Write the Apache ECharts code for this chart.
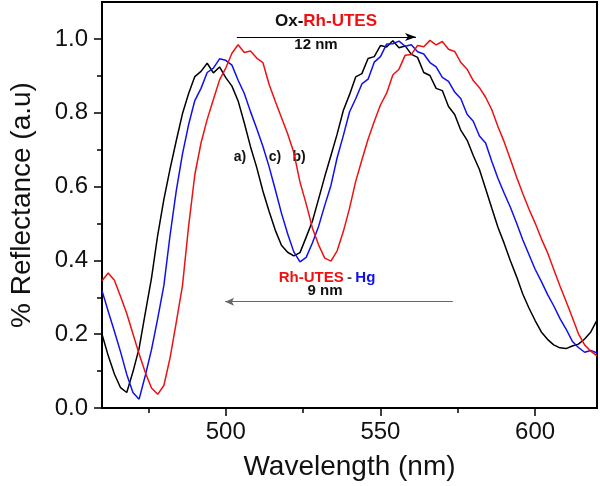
<!DOCTYPE html>
<html>
<head>
<meta charset="utf-8">
<script src="https://cdn.jsdelivr.net/npm/echarts@6/dist/echarts.min.js"></script>
<style>
  html, body { margin: 0; padding: 0; background: #fff; }
  #chart { width: 600px; height: 486px; }
</style>
</head>
<body>
<div id="chart"></div>
<script>
// wavelength samples (nm)
const wavelengths = [
  460, 462, 464, 466, 468, 470, 472, 474, 476, 478,
  480, 482, 484, 486, 488, 490, 492, 494, 496, 498,
  500, 502, 504, 506, 508, 510, 512, 514, 516, 518,
  520, 522, 524, 526, 528, 530, 532, 534, 536, 538,
  540, 542, 544, 546, 548, 550, 552, 554, 556, 558,
  560, 562, 564, 566, 568, 570, 572, 574, 576, 578,
  580, 582, 584, 586, 588, 590, 592, 594, 596, 598,
  600, 602, 604, 606, 608, 610, 612, 614, 616, 618,
  620
];
// a) Ox-Rh-UTES (black)
const reflA = [
  0.200, 0.142, 0.092, 0.055, 0.042, 0.098, 0.162, 0.258, 0.352, 0.468,
  0.565, 0.648, 0.724, 0.797, 0.852, 0.898, 0.912, 0.934, 0.908, 0.924,
  0.895, 0.872, 0.832, 0.772, 0.708, 0.652, 0.588, 0.533, 0.482, 0.441,
  0.422, 0.412, 0.421, 0.463, 0.506, 0.566, 0.627, 0.684, 0.742, 0.806,
  0.849, 0.897, 0.906, 0.947, 0.952, 0.982, 0.978, 0.995, 0.976, 0.981,
  0.958, 0.950, 0.909, 0.901, 0.866, 0.860, 0.817, 0.795, 0.752, 0.726,
  0.684, 0.646, 0.594, 0.541, 0.489, 0.446, 0.399, 0.356, 0.309, 0.271,
  0.237, 0.206, 0.186, 0.171, 0.163, 0.161, 0.168, 0.173, 0.187, 0.206,
  0.238
];
// b) Rh-UTES (red)
const reflB = [
  0.345, 0.366, 0.346, 0.302, 0.256, 0.201, 0.146, 0.096, 0.054, 0.037,
  0.061, 0.136, 0.232, 0.331, 0.493, 0.632, 0.718, 0.782, 0.836, 0.889,
  0.921, 0.961, 0.984, 0.963, 0.967, 0.948, 0.936, 0.877, 0.831, 0.787,
  0.743, 0.692, 0.612, 0.553, 0.488, 0.442, 0.406, 0.398, 0.426, 0.478,
  0.541, 0.614, 0.672, 0.728, 0.776, 0.821, 0.853, 0.902, 0.918, 0.956,
  0.958, 0.982, 0.979, 0.996, 0.984, 0.993, 0.972, 0.966, 0.936, 0.918,
  0.887, 0.868, 0.842, 0.808, 0.762, 0.721, 0.674, 0.626, 0.581, 0.539,
  0.501, 0.459, 0.421, 0.376, 0.331, 0.289, 0.246, 0.201, 0.171, 0.154,
  0.141
];
// c) Rh-UTES-Hg (blue)
const reflC = [
  0.318, 0.262, 0.208, 0.152, 0.091, 0.042, 0.024, 0.088, 0.158, 0.242,
  0.332, 0.468, 0.588, 0.688, 0.768, 0.833, 0.866, 0.909, 0.921, 0.946,
  0.942, 0.929, 0.888, 0.852, 0.803, 0.757, 0.709, 0.654, 0.592, 0.528,
  0.472, 0.423, 0.396, 0.408, 0.447, 0.492, 0.549, 0.603, 0.678, 0.738,
  0.802, 0.838, 0.878, 0.891, 0.937, 0.952, 0.986, 0.987, 0.994, 0.980,
  0.984, 0.965, 0.959, 0.936, 0.924, 0.896, 0.885, 0.856, 0.838, 0.796,
  0.777, 0.737, 0.718, 0.668, 0.622, 0.582, 0.544, 0.501, 0.456, 0.416,
  0.376, 0.343, 0.308, 0.277, 0.243, 0.214, 0.181, 0.164, 0.151, 0.156,
  0.149
];
const xMajorTicks = [500, 550, 600];
const xMinorTicks = [475, 525, 575];
const yMajorTicks = [0, 0.2, 0.4, 0.6, 0.8, 1.0];
const yMinorTicks = [0.1, 0.3, 0.5, 0.7, 0.9];
// shift arrows (nm, reflectance)
const redShift = [[503.6, 1.005], [561.5, 1.005]];
const blueShift = [[573.4, 0.288], [499.8, 0.288]];

const FONT = '"Liberation Sans", Arial, sans-serif';
const chart = echarts.init(document.getElementById('chart'));

function pairs(ys) {
  return wavelengths.map(function (x, i) { return [x, ys[i]]; });
}

function note(x, y, text, size) {
  return { type: 'text', x: x, y: y, style: {
    text: text, align: 'center', verticalAlign: 'middle',
    fontSize: size, fontWeight: 'bold', fontFamily: FONT, fill: '#111'
  } };
}

const option = {
  animation: false,
  textStyle: { fontFamily: FONT },
  grid: {
    left: 97, right: 3, top: 2, bottom: 74,
    show: true, borderColor: '#000', borderWidth: 2
  },
  xAxis: [{
    type: 'value', min: 460, max: 620,
    name: 'Wavelength (nm)', nameLocation: 'middle', nameGap: 45,
    nameTextStyle: { fontSize: 28, color: '#111', fontFamily: FONT },
    axisLine: { lineStyle: { color: '#000', width: 2 } },
    axisTick: { customValues: xMajorTicks, length: 8, lineStyle: { color: '#000', width: 1.5 } },
    axisLabel: { customValues: xMajorTicks, fontSize: 24, color: '#111', margin: 12, fontFamily: FONT },
    splitLine: { show: false }
  }, {
    type: 'value', min: 460, max: 620, position: 'bottom',
    axisLine: { show: false },
    axisTick: { customValues: xMinorTicks, length: 5, lineStyle: { color: '#000', width: 1.5 } },
    axisLabel: { show: false },
    splitLine: { show: false }
  }],
  yAxis: [{
    type: 'value', min: 0, max: 1.1,
    name: '% Reflectance (a.u)', nameLocation: 'middle', nameGap: 66,
    nameTextStyle: { fontSize: 28, color: '#111', fontFamily: FONT },
    axisLine: { show: true, lineStyle: { color: '#000', width: 2 } },
    axisTick: { show: true, customValues: yMajorTicks, length: 8, lineStyle: { color: '#000', width: 1.5 } },
    axisLabel: {
      customValues: yMajorTicks, fontSize: 24, color: '#111', margin: 14, fontFamily: FONT,
      formatter: function (v) { return v.toFixed(1); }
    },
    splitLine: { show: false }
  }, {
    type: 'value', min: 0, max: 1.1, position: 'left',
    axisLine: { show: false },
    axisTick: { show: true, customValues: yMinorTicks, length: 5, lineStyle: { color: '#000', width: 1.5 } },
    axisLabel: { show: false },
    splitLine: { show: false }
  }],
  series: [{
    name: 'a)', type: 'line', data: pairs(reflA), showSymbol: false,
    lineStyle: { color: '#000', width: 1.5 },
    markLine: {
      silent: true, symbol: ['none', 'arrow'], symbolSize: [6, 11],
      label: { show: false },
      lineStyle: { color: '#000', width: 1, type: 'solid' },
      data: [[{ coord: redShift[0] }, { coord: redShift[1] }]]
    }
  }, {
    name: 'c)', type: 'line', data: pairs(reflC), showSymbol: false,
    lineStyle: { color: '#1010ee', width: 1.5 },
    markLine: {
      silent: true, symbol: ['none', 'arrow'], symbolSize: [6, 9],
      label: { show: false },
      itemStyle: { color: '#000' },
      lineStyle: { color: '#666', width: 1, type: 'solid' },
      data: [[{ coord: blueShift[0] }, { coord: blueShift[1] }]]
    }
  }, {
    name: 'b)', type: 'line', data: pairs(reflB), showSymbol: false,
    lineStyle: { color: '#ee1111', width: 1.5 }
  }],
  graphic: [
    { type: 'text', x: 326, y: 21, style: {
      text: '{k|Ox-}{r|Rh-UTES}', align: 'center', verticalAlign: 'middle',
      rich: {
        k: { fontSize: 17, fontWeight: 'bold', fill: '#111', fontFamily: FONT },
        r: { fontSize: 17, fontWeight: 'bold', fill: '#ee1111', fontFamily: FONT }
      }
    } },
    note(316, 45, '12 nm', 15),
    note(240, 157, 'a)', 14),
    note(275, 157, 'c)', 14),
    note(299, 157, 'b)', 14),
    { type: 'text', x: 327, y: 278, style: {
      text: '{r|Rh-UTES} {k|-} {b|Hg}', align: 'center', verticalAlign: 'middle',
      rich: {
        r: { fontSize: 15, fontWeight: 'bold', fill: '#ee1111', fontFamily: FONT },
        k: { fontSize: 15, fontWeight: 'bold', fill: '#444', fontFamily: FONT },
        b: { fontSize: 15, fontWeight: 'bold', fill: '#1010ee', fontFamily: FONT }
      }
    } },
    note(325, 291, '9 nm', 15)
  ]
};
chart.setOption(option);
</script>
</body>
</html>
